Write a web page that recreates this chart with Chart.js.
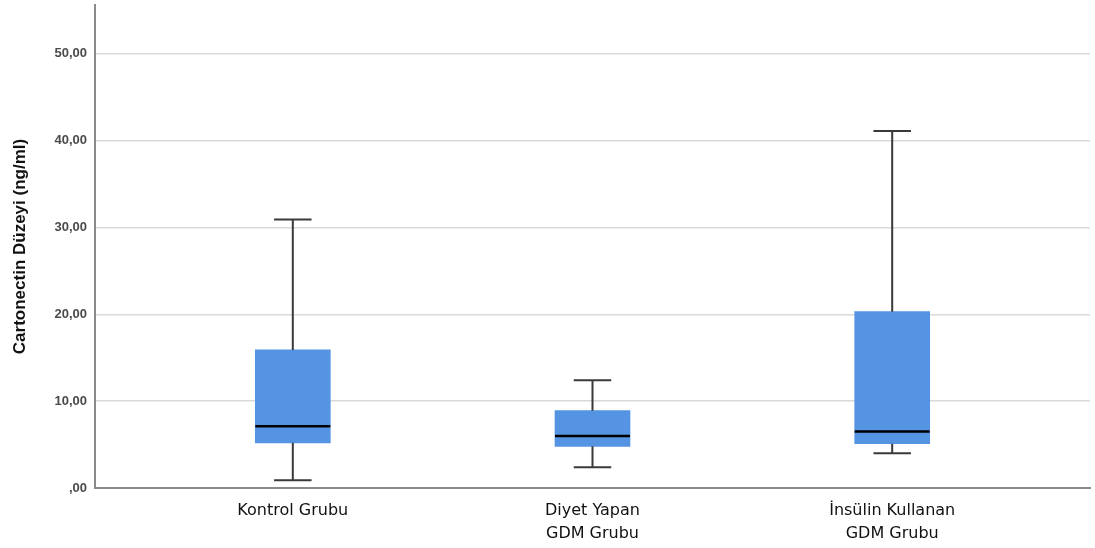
<!DOCTYPE html>
<html>
<head>
<meta charset="utf-8">
<script src="https://cdn.jsdelivr.net/npm/chart.js@4"></script>
<style>
  html, body { margin: 0; padding: 0; background: #fff; }
  #wrap { width: 1095px; height: 548px; }
</style>
</head>
<body>
<div id="wrap"><canvas id="box-chart"></canvas></div>
<script>
const categories = [['Kontrol Grubu'], ['Diyet Yapan', 'GDM Grubu'], ['İnsülin Kullanan', 'GDM Grubu']];
const mins    = [0.9, 2.4, 4.0];
const q1s     = [5.2, 4.8, 5.1];
const medians = [7.1, 6.0, 6.5];
const q3s     = [15.9, 8.9, 20.3];
const maxs    = [30.9, 12.4, 41.1];
const yTicks  = [0, 10, 20, 30, 40, 50];

const BOX_W = 75;

// whiskers + medians, drawn through the chart scales
const boxExtras = {
  id: 'boxExtras',
  afterDatasetsDraw(chart) {
    const ctx = chart.ctx;
    const xs = chart.scales.x, ys = chart.scales.y;
    ctx.save();
    categories.forEach((c, i) => {
      const cx = xs.getPixelForValue(i);
      const cap = BOX_W / 4;
      ctx.strokeStyle = '#3a3a3a';
      ctx.lineWidth = 2;
      ctx.beginPath();
      ctx.moveTo(cx, ys.getPixelForValue(maxs[i]));
      ctx.lineTo(cx, ys.getPixelForValue(q3s[i]));
      ctx.moveTo(cx, ys.getPixelForValue(q1s[i]));
      ctx.lineTo(cx, ys.getPixelForValue(mins[i]));
      ctx.moveTo(cx - cap, ys.getPixelForValue(maxs[i]));
      ctx.lineTo(cx + cap, ys.getPixelForValue(maxs[i]));
      ctx.moveTo(cx - cap, ys.getPixelForValue(mins[i]));
      ctx.lineTo(cx + cap, ys.getPixelForValue(mins[i]));
      ctx.stroke();
      ctx.strokeStyle = '#000';
      ctx.lineWidth = 2.5;
      ctx.beginPath();
      ctx.moveTo(cx - BOX_W / 2, ys.getPixelForValue(medians[i]));
      ctx.lineTo(cx + BOX_W / 2, ys.getPixelForValue(medians[i]));
      ctx.stroke();
    });
    ctx.restore();
  }
};

const ctx = document.getElementById('box-chart').getContext('2d');
const boxChart = new Chart(ctx, {
  type: 'bar',
  plugins: [boxExtras],
  data: {
    datasets: [{
      data: categories.map((c, i) => ({ x: i, y: [q1s[i], q3s[i]] })),
      backgroundColor: '#5594E2',
      borderWidth: 0,
      borderSkipped: false,
      barThickness: BOX_W
    }]
  },
  options: {
    responsive: true,
    maintainAspectRatio: false,
    animation: false,
    layout: { padding: { top: 5, right: 5, left: 0, bottom: 0 } },
    plugins: {
      legend: { display: false },
      tooltip: { enabled: false }
    },
    scales: {
      x: {
        type: 'linear',
        offset: false,
        min: -0.66,
        max: 2.66,
        afterBuildTicks: (axis) => { axis.ticks = categories.map((c, i) => ({ value: i })); },
        afterFit: (axis) => { axis.height = 60; axis.paddingLeft = 0; axis.paddingRight = 0; },
        grid: { display: false, drawTicks: false },
        border: { display: true, color: '#8a8a8a', width: 2 },
        ticks: {
          autoSkip: false,
          maxRotation: 0,
          padding: 12,
          color: '#111',
          font: { family: 'DejaVu Sans', size: 16, lineHeight: 1.4 },
          callback: (v) => categories[v]
        }
      },
      y: {
        min: 0,
        max: 55.6,
        afterBuildTicks: (axis) => { axis.ticks = yTicks.map(v => ({ value: v })); },
        afterFit: (axis) => { axis.width = 95; axis.paddingTop = 0; axis.paddingBottom = 0; },
        grid: { color: '#d9d9d9', lineWidth: 1.5, drawTicks: false },
        border: { display: true, color: '#8a8a8a', width: 2 },
        ticks: {
          padding: 8,
          color: '#4a4a4a',
          font: { family: 'Liberation Sans', size: 13, weight: 'bold' },
          callback: (v) => v === 0 ? ',00' : v.toFixed(2).replace('.', ',')
        },
        title: {
          display: true,
          text: 'Cartonectin Düzeyi (ng/ml)',
          color: '#111',
          font: { family: 'Liberation Sans', size: 17, weight: 'bold' },
          padding: { top: 10, bottom: 4 }
        }
      }
    }
  }
});
</script>
</body>
</html>
